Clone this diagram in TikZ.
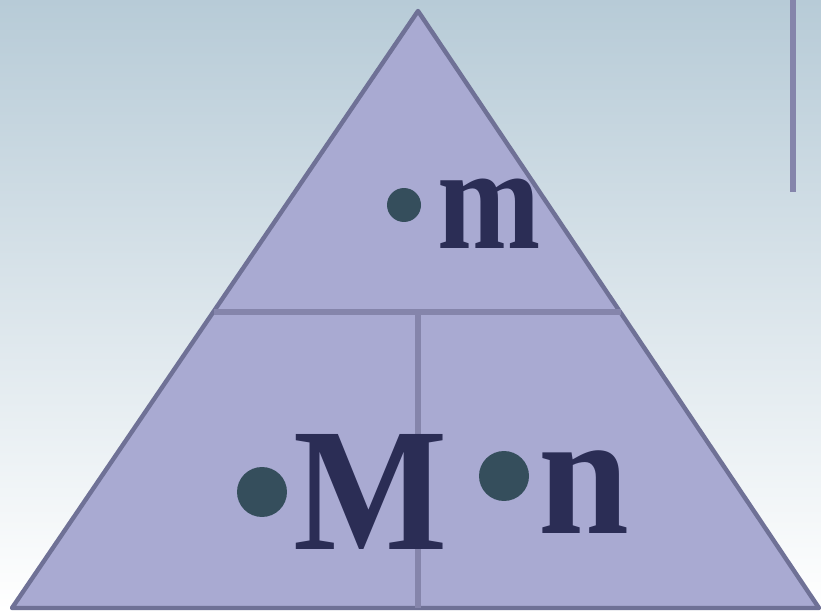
\documentclass[tikz,border=0pt]{standalone}
\usepackage{fontspec}
\setmainfont{Liberation Serif}
\usepackage{tikz}
\definecolor{bgtop}{HTML}{B7CBD7}
\definecolor{trifill}{HTML}{A9AAD2}
\definecolor{triedge}{HTML}{6F7196}
\definecolor{divline}{HTML}{8585AB}
\definecolor{inkblue}{HTML}{2B2D55}
\definecolor{dotteal}{HTML}{354E5C}
\tikzset{
  tripart/.style={fill=trifill, draw=triedge, line width=2.5pt, line join=round},
  divider/.style={draw=divline, line width=2.9pt},
  bigletter/.style={inner sep=0pt, anchor=base west, text=inkblue, font=\bfseries},
  dot/.style={circle, fill=dotteal, inner sep=0pt, minimum size=#1},
  dot/.default=17mm,
}

\begin{document}
\begin{tikzpicture}[x=0.02cm, y=-0.02cm]
  % background
  \shade[top color=bgtop, bottom color=white, middle color=bgtop!50!white]
    (0,0) rectangle (821,611);
  \useasboundingbox (0,0) rectangle (821,611);

  % side bar
  \draw[divider, line width=3.4pt] (793,0) -- (793,192);

  % triangle
  \coordinate (apex) at (418,11);
  \coordinate (bl) at (12,608);
  \coordinate (br) at (819,608);
  \coordinate (ml) at (214,312);
  \coordinate (mr) at (621,312);
  \coordinate (mm) at (418,312);
  \coordinate (bm) at (418,608);
  \draw[tripart] (apex) -- (br) -- (bl) -- cycle;
  \draw[divider] (ml) -- (mr);
  \draw[divider] (mm) -- (bm);

  % letters
  \node[dot=0.68cm] (dm) at (404,205) {};
  \node[bigletter, font=\bfseries\fontsize{84}{84}\selectfont] (lm) at (437,248)
    {\scalebox{0.84}[1]{m}};
  \node[dot=1.0cm] (dM) at (262,492) {};
  \node[bigletter, font=\bfseries\fontsize{100}{100}\selectfont] (lM) at (293,549)
    {\scalebox{0.93}[1]{M}};
  \node[dot=1.0cm] (dn) at (504,476) {};
  \node[bigletter, font=\bfseries\fontsize{100}{100}\selectfont] (ln) at (538,533)
    {\scalebox{0.93}[1]{n}};
\end{tikzpicture}
\end{document}
